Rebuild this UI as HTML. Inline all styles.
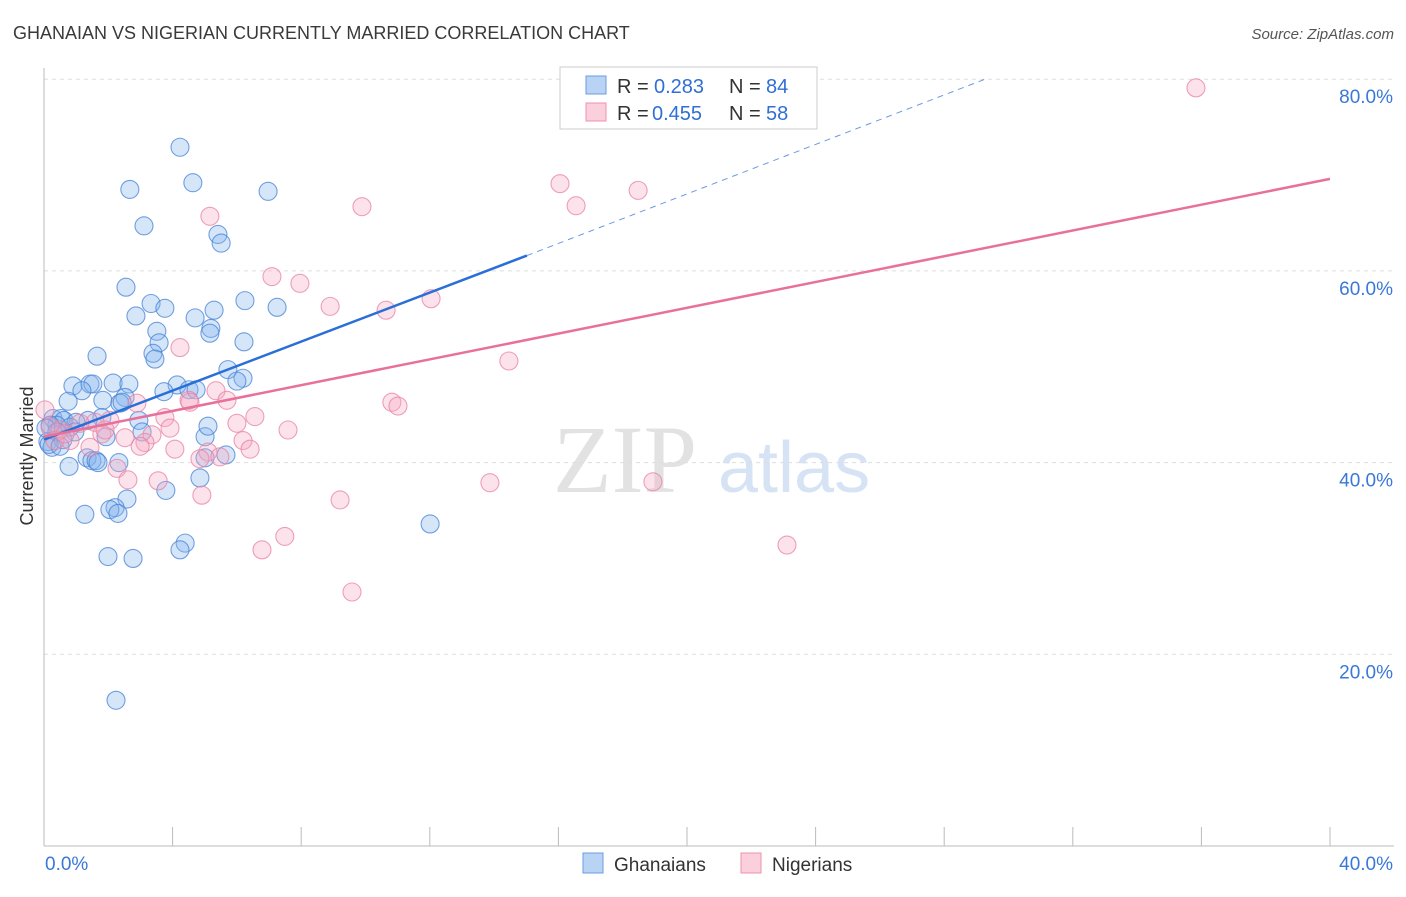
<!DOCTYPE html>
<html><head><meta charset="utf-8"><style>
body{margin:0;background:#fff;font-family:"Liberation Sans",sans-serif;}
</style></head><body>
<svg id="chart" width="1406" height="892" xmlns="http://www.w3.org/2000/svg" font-family="Liberation Sans, sans-serif">
<text x="13" y="39" font-size="18" fill="#3a3a3a">GHANAIAN VS NIGERIAN CURRENTLY MARRIED CORRELATION CHART</text>
<text x="1394" y="39" font-size="15" fill="#555" text-anchor="end" font-style="italic">Source: ZipAtlas.com</text>
<text transform="translate(33,456) rotate(-90)" font-size="18" fill="#333" text-anchor="middle">Currently Married</text>
<text x="553" y="492" font-size="96" fill="#e2e2e2" font-family="Liberation Serif, serif">ZIP</text>
<text x="718" y="492" font-size="72" fill="#d6e3f5">atlas</text>
<g id="grid"></g><g id="axes"></g><g id="pts"></g><g id="lines"></g>
<g>
<rect x="560" y="67" width="257" height="62" fill="#fff" stroke="#ccc"/>
<rect x="586" y="76" width="20" height="18" fill="#b9d3f5" stroke="#6a9be0"/>
<rect x="586" y="103" width="20" height="18" fill="#fbcfdc" stroke="#ec93b0"/>
<text x="617" y="93" font-size="20" fill="#333">R =</text>
<text x="654" y="93" font-size="20" fill="#2f6fd6">0.283</text>
<text x="729" y="93" font-size="20" fill="#333">N =</text>
<text x="766" y="93" font-size="20" fill="#2f6fd6">84</text>
<text x="617" y="120" font-size="20" fill="#333">R =</text>
<text x="652" y="120" font-size="20" fill="#2f6fd6">0.455</text>
<text x="729" y="120" font-size="20" fill="#333">N =</text>
<text x="766" y="120" font-size="20" fill="#2f6fd6">58</text>
</g>
<g>
<rect x="583" y="853" width="20" height="20" fill="#b9d3f5" stroke="#6a9be0"/>
<text x="614" y="871" font-size="19" fill="#333">Ghanaians</text>
<rect x="741" y="853" width="20" height="20" fill="#fbcfdc" stroke="#ec93b0"/>
<text x="772" y="871" font-size="19" fill="#333">Nigerians</text>
</g>
</svg>
<script>
const yTicks=[20,40,60,80];
const xTickLabels=["0.0%","40.0%"];
const blueX=[4.23,4.63,2.67,6.97,3.11,5.41,5.51,2.55,3.33,3.76,6.25,2.86,5.29,7.25,4.70,3.51,5.19,5.16,3.58,6.22,1.65,3.39,3.45,5.72,0.90,1.43,1.52,2.15,2.64,4.14,6.19,6.00,1.18,3.73,4.51,4.73,2.52,1.83,0.75,2.36,0.28,0.53,0.62,0.40,1.80,2.95,1.37,0.995,0.19,0.81,0.96,1.93,5.01,3.05,5.10,0.12,0.25,1.34,1.49,1.62,2.33,5.01,5.66,0.78,1.68,4.85,3.79,2.58,2.21,2.05,2.30,1.27,12.01,4.39,4.23,1.99,2.77,2.24,0.40,0.06,0.59,0.16,0.50,2.43];
const blueY=[72.9,69.2,68.5,68.3,64.7,63.8,62.9,58.3,56.6,56.1,56.9,55.3,55.9,56.2,55.1,53.7,54.0,53.5,52.5,52.6,51.1,51.4,50.8,49.7,48.0,48.2,48.2,48.3,48.2,48.1,48.8,48.5,47.5,47.4,47.6,47.6,46.8,46.5,46.4,46.2,44.6,44.6,44.4,43.9,44.7,44.4,44.4,44.2,43.9,43.7,43.2,42.7,42.7,43.2,43.8,42.2,41.6,40.5,40.2,40.2,40.0,40.5,40.8,39.6,40.0,38.4,37.1,36.2,35.3,35.1,34.7,34.6,33.6,31.6,30.9,30.2,30.0,15.2,43.2,43.6,42.4,41.9,41.7,46.3];
const pinkX=[35.83,18.48,16.05,16.55,9.89,5.16,7.09,7.96,8.90,10.64,12.04,4.23,14.46,5.35,4.51,5.69,10.82,11.01,3.76,6.56,2.89,2.05,1.59,3.92,7.59,6.00,3.36,2.52,1.80,6.19,6.41,3.14,4.07,5.10,5.47,4.85,1.43,0.81,2.27,3.55,2.61,4.91,9.21,13.87,18.94,6.78,7.49,23.11,9.58,0.03,0.19,0.50,1.12,4.54,1.90,0.34,0.65,2.99];
const pinkY=[79.1,68.4,69.1,66.8,66.7,65.7,59.4,58.7,56.3,55.9,57.1,52.0,50.6,47.5,46.5,46.5,46.3,45.9,44.7,44.8,46.2,44.4,44.2,43.6,43.4,44.1,42.9,42.6,43.0,42.3,41.4,42.1,41.4,41.1,40.6,40.4,41.6,42.3,39.4,38.1,38.2,36.6,36.1,37.9,38.0,30.9,32.3,31.4,26.5,45.5,43.7,43.4,44.1,46.3,43.4,42.3,43.0,41.7];
const X=v=>44+v*32.15, Y=v=>846-v*9.585;
const NS="http://www.w3.org/2000/svg";
function mk(tag,attrs,parent){const e=document.createElementNS(NS,tag);for(const k in attrs)e.setAttribute(k,attrs[k]);parent.appendChild(e);return e;}
const grid=document.getElementById('grid'),axes=document.getElementById('axes'),pts=document.getElementById('pts'),lines=document.getElementById('lines');
yTicks.forEach(t=>{
 const l=mk('line',{x1:44,x2:1394,y1:Y(t),y2:Y(t),stroke:'#ddd','stroke-dasharray':'4,4'},grid);
 
 
 const tx=mk('text',{x:1393,y:Y(t)+24,'font-size':19,fill:'#3a78d8','text-anchor':'end'},axes);
 tx.textContent=t.toFixed(1)+'%';
 
 
});
mk('line',{x1:44,x2:44,y1:68,y2:846,stroke:'#bbb'},axes);
mk('line',{x1:44,x2:1394,y1:846,y2:846,stroke:'#bbb'},axes);
for(let i=0;i<=10;i++){mk('line',{x1:X(i*4),x2:X(i*4),y1:827,y2:846,stroke:'#bbb'},axes);}
const xl0=mk('text',{x:45,y:870,'font-size':19,fill:'#3a78d8'},axes);xl0.textContent=xTickLabels[0];


const xl1=mk('text',{x:1393,y:870,'font-size':19,fill:'#3a78d8','text-anchor':'end'},axes);xl1.textContent=xTickLabels[1];


blueX.forEach((x,i)=>{const c=mk('circle',{cx:X(x),cy:Y(blueY[i]),r:9,fill:'rgba(130,178,238,0.33)',stroke:'rgba(70,130,215,0.75)','stroke-width':1.1},pts);
 
 });
pinkX.forEach((x,i)=>{const c=mk('circle',{cx:X(x),cy:Y(pinkY[i]),r:9,fill:'rgba(247,168,192,0.33)',stroke:'rgba(232,130,165,0.75)','stroke-width':1.1},pts);
 
 });
const b1=mk('line',{x1:X(0),y1:Y(42.4),x2:X(15.02),y2:Y(61.6),stroke:'#2a6fd8','stroke-width':2.5},lines);


const b2=mk('line',{x1:X(15.02),y1:Y(61.6),x2:X(29.27),y2:Y(80),stroke:'#6a9be0','stroke-width':1,'stroke-dasharray':'6,5'},lines);


const p1=mk('line',{x1:X(0),y1:Y(42.7),x2:X(40),y2:Y(69.6),stroke:'#e8709a','stroke-width':2.5},lines);


</script>
</body></html>
